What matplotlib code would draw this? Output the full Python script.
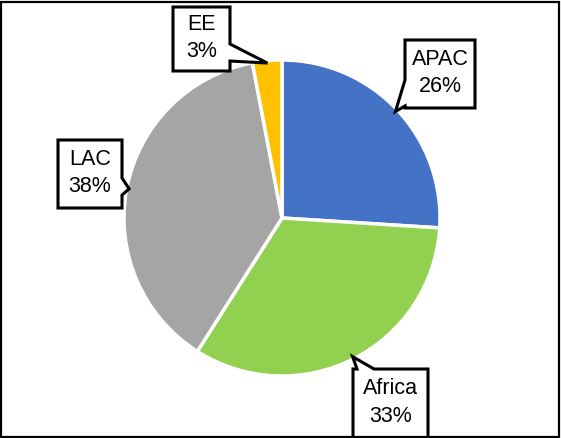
import numpy as np
import matplotlib
matplotlib.use("Agg")
from matplotlib import pyplot as plt
from matplotlib.patches import Polygon, Rectangle

regions = ["APAC", "Africa", "LAC", "EE"]
shares = [26, 33, 38, 3]
colors = ["#4472C4", "#92D050", "#A5A5A5", "#FFC000"]

W, H = 561, 438
CX, CY, R = 282, 218, 158

# callout boxes in pixel coords (left, top, right, bottom), side with the pointer, pointer base span
boxes = {
    "APAC": ((405, 40, 475, 108), "left", (80, 106)),
    "Africa": ((353, 369, 428, 440), "top", (357, 374)),
    "LAC": ((58, 140, 122, 208), "right", (178, 195)),
    "EE": ((173, 7, 230, 71), "right", (44, 61)),
}


def fy(y):
    return H - y


def callout(ax, box, side, base, tip, text):
    l, t, r, b = box
    tx, ty = tip
    if side == "right":
        pts = [(l, t), (r, t), (r, base[0]), (tx, ty), (r, base[1]), (r, b), (l, b)]
    elif side == "left":
        pts = [(l, t), (r, t), (r, b), (l, b), (l, base[1]), (tx, ty), (l, base[0])]
    else:
        pts = [(l, t), (base[0], t), (tx, ty), (base[1], t), (r, t), (r, b), (l, b)]
    pts = [(x, fy(y)) for x, y in pts]
    ax.add_patch(Polygon(pts, closed=True, facecolor="white", edgecolor="black",
                         linewidth=2.2, joinstyle="miter", zorder=3))
    ax.text((l + r) / 2, fy((t + min(b, H)) / 2 - 1), text, ha="center", va="center",
            fontsize=15.5, family="Liberation Sans", linespacing=1.38, zorder=4)


fig = plt.figure(figsize=(W / 100, H / 100), dpi=100)
ax = fig.add_axes([0, 0, 1, 1])

wedges, _ = ax.pie(shares, colors=colors, startangle=90, counterclock=False,
                   center=(CX, fy(CY)), radius=R,
                   wedgeprops=dict(edgecolor="white", linewidth=2.5))

ax.set_xlim(0, W)
ax.set_ylim(0, H)
ax.set_aspect("equal")
ax.axis("off")

for w, name, val in zip(wedges, regions, shares):
    mid = np.deg2rad((w.theta1 + w.theta2) / 2)
    tip = (CX + R * 0.985 * np.cos(mid), CY - R * 0.985 * np.sin(mid))
    box, side, base = boxes[name]
    callout(ax, box, side, base, tip, f"{name}\n{val}%")

ax.add_patch(Rectangle((1.5, 1.5), W - 3, H - 3, fill=False, edgecolor="black",
                       linewidth=1.6, zorder=5, clip_on=False))

fig.savefig("out.png", dpi=100)
